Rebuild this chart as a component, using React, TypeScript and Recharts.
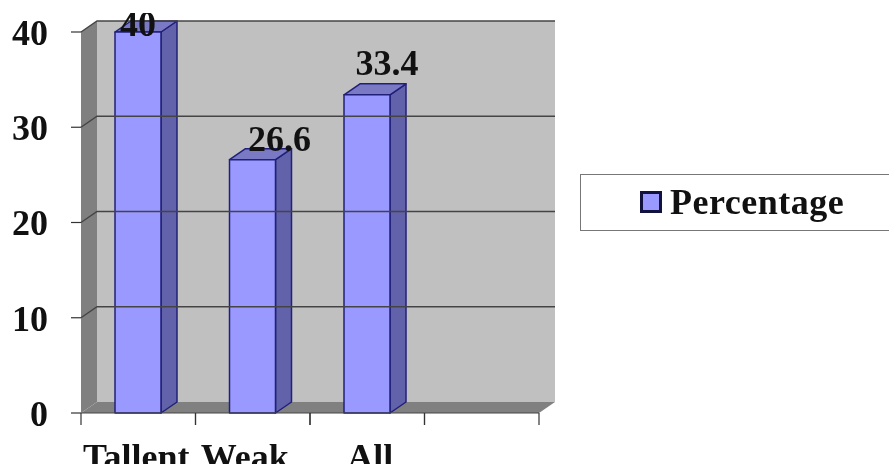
import React from 'react';
import { BarChart, Bar, XAxis, YAxis, Legend, ReferenceArea, ReferenceLine, LabelList } from 'recharts';

const categories = ['Tallent', 'Weak', 'All', ' '];
const percentages: (number | null)[] = [40, 26.6, 33.4, null];
const yTicks = [0, 10, 20, 30, 40];
const gridValues = [10, 20, 30, 40];
const seriesName = 'Percentage';

const data = categories.map((name, i) => ({ name, Percentage: percentages[i] }));

const DX = 16;
const DY = 11;
const FONT = '"Liberation Serif", "Times New Roman", serif';
const TEXT = '#111111';
const FONT_SIZE = 36;

const Wall = (p: any) => {
  const { x, y, width, height } = p;
  const b = y + height;
  const r = x + width;
  return (
    <g>
      <rect x={x + DX} y={y - DY} width={width} height={height} fill="#c0c0c0" />
      <polygon points={`${x},${y} ${x + DX},${y - DY} ${x + DX},${b - DY} ${x},${b}`} fill="#808080" />
      <polygon points={`${x},${b} ${x + DX},${b - DY} ${r + DX},${b - DY} ${r},${b}`} fill="#808080" />
    </g>
  );
};

const GridLine = (p: any) => {
  const { x1, y1, x2, y2 } = p;
  return (
    <polyline
      points={`${x1},${y1} ${x1 + DX},${y1 - DY} ${x2 + DX},${y2 - DY}`}
      fill="none"
      stroke="#444444"
      strokeWidth={1.4}
    />
  );
};

const Bar3D = (p: any) => {
  const { x, y, width, height } = p;
  if (!height) return null;
  const r = x + width;
  const b = y + height;
  const stroke = '#20207a';
  return (
    <g stroke={stroke} strokeWidth={1.5} strokeLinejoin="round">
      <polygon points={`${r},${y} ${r + DX},${y - DY} ${r + DX},${b - DY} ${r},${b}`} fill="#6262aa" />
      <polygon points={`${x},${y} ${x + DX},${y - DY} ${r + DX},${y - DY} ${r},${y}`} fill="#7a7ac4" />
      <rect x={x} y={y} width={width} height={height} fill="#9999ff" />
    </g>
  );
};

const labelShift = [
  { dx: 0, dy: 4 },
  { dx: 27, dy: -9 },
  { dx: 20, dy: -20 },
];

const ValueLabel = (p: any) => {
  const { x, y, width, value, index } = p;
  if (value == null) return null;
  const s = labelShift[index];
  const cx = x + width / 2 + s.dx;
  return (
    <text
      x={cx}
      y={y + s.dy}
      textAnchor="middle"
      clipPath={index === 0 ? 'url(#topClip)' : undefined}
      fontFamily={FONT}
      fontWeight="bold"
      fontSize={FONT_SIZE}
      fill={TEXT}
    >
      {value}
    </text>
  );
};

const labelNudge = [-2, -8, 3, 0];

const XTick = (p: any) => {
  const { x, y, payload, index } = p;
  const half = 57.25;
  return (
    <g>
      <line x1={x - half} y1={y} x2={x - half} y2={y + 12} stroke="#333333" strokeWidth={1.2} />
      <line x1={x + half} y1={y} x2={x + half} y2={y + 12} stroke="#333333" strokeWidth={1.2} />
      <text x={x + labelNudge[index]} y={y + 56} textAnchor="middle" fontFamily={FONT} fontWeight="bold" fontSize={FONT_SIZE} fill={TEXT}>
        {payload.value}
      </text>
    </g>
  );
};

const LegendBox = (p: any) => {
  const item = p.payload?.[0];
  return (
    <div
      style={{
        width: 320,
        height: 57,
        boxSizing: 'border-box',
        border: '1px solid #777',
        background: '#fff',
        position: 'relative',
      }}
    >
      <div
        style={{
          position: 'absolute',
          left: 59,
          top: 16,
          width: 22,
          height: 22,
          boxSizing: 'border-box',
          background: '#9999ff',
          border: '3px solid #12123f',
        }}
      />
      <div
        style={{
          position: 'absolute',
          left: 89,
          top: 8,
          fontFamily: FONT,
          fontWeight: 'bold',
          fontSize: FONT_SIZE,
          lineHeight: '38px',
          color: TEXT,
          letterSpacing: 0.5,
        }}
      >
        {item ? item.value : seriesName}
      </div>
    </div>
  );
};

export default function App() {
  return (
    <div style={{ position: 'absolute', left: 0, top: 0, width: 889, height: 464, overflow: 'hidden', background: '#fff', filter: 'blur(0.5px)' }}>
      <BarChart
        width={889}
        height={464}
        data={data}
        margin={{ top: 32, right: 350, bottom: 0, left: 0 }}
        barCategoryGap={0}
      >
        <defs>
          <clipPath id="topClip">
            <rect x={0} y={13} width={889} height={451} />
          </clipPath>
        </defs>
        <ReferenceArea x1="Tallent" x2=" " y1={0} y2={40} shape={<Wall />} ifOverflow="visible" />
        {gridValues.map((v) => (
          <ReferenceLine key={v} y={v} shape={<GridLine />} ifOverflow="visible" />
        ))}
        <XAxis
          dataKey="name"
          height={51}
          interval={0}
          axisLine={{ stroke: '#444444', strokeWidth: 1 }}
          tickLine={false}
          tickSize={0}
          tickMargin={0}
          tick={<XTick />}
        />
        <YAxis
          width={81}
          domain={[0, 40]}
          ticks={yTicks}
          axisLine={false}
          tickSize={10}
          tickMargin={23}
          tickLine={{ stroke: '#333333', strokeWidth: 1.2 }}
          tick={{ fontFamily: FONT, fontWeight: 'bold', fontSize: FONT_SIZE, fill: TEXT }}
        />
        <Legend
          layout="horizontal"
          verticalAlign="middle"
          align="center"
          content={<LegendBox />}
          wrapperStyle={{ position: 'absolute', left: 580, top: 174, width: 320, height: 57 }}
        />
        <Bar dataKey="Percentage" name={seriesName} barSize={46} fill="#9999ff" shape={<Bar3D />} isAnimationActive={false}>
          <LabelList dataKey="Percentage" content={<ValueLabel />} />
        </Bar>
      </BarChart>
    </div>
  );
}
